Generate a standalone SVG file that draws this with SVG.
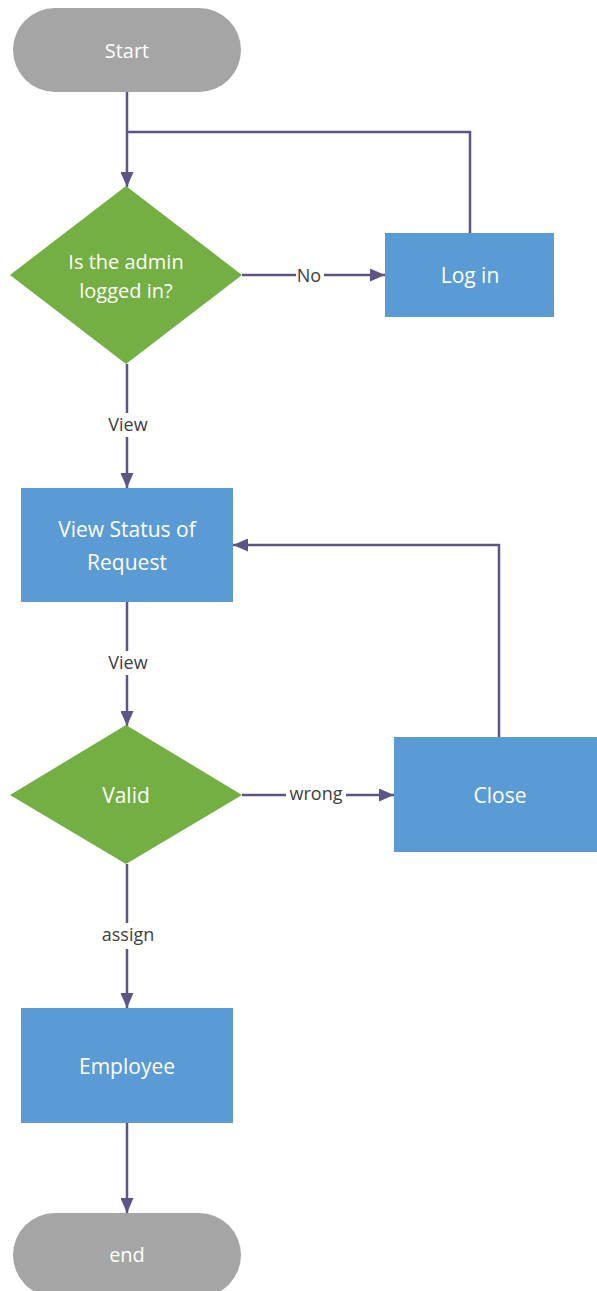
<svg xmlns="http://www.w3.org/2000/svg" width="597" height="1291" viewBox="0 0 597 1291">
<defs>
<marker id="arr" markerWidth="15" markerHeight="13" refX="15" refY="6.5" orient="auto" markerUnits="userSpaceOnUse">
<path d="M0,0 L15,6.5 L0,13 Z" fill="#5E5488"/>
</marker>
<style>
.term{fill:#A5A5A5}
.dec{fill:#74AF43}
.proc{fill:#5B9BD5}
.t{font-family:"Open Sans","Liberation Sans",sans-serif;font-size:21px;fill:#fff;text-anchor:middle;dominant-baseline:central}
.c{stroke:#5E5488;stroke-width:2.5;fill:none}
.l{font-family:"Open Sans","Liberation Sans",sans-serif;font-size:18px;fill:#404040;text-anchor:middle;dominant-baseline:central}
.bg{fill:#fff}
</style>
</defs>
<rect width="597" height="1291" fill="#fff"/>
<g id="connectors">
<path class="c" d="M127,92 V187" marker-end="url(#arr)"/>
<path class="c" d="M470,233 V132 H127"/>
<path class="c" d="M242,275 H385" marker-end="url(#arr)"/>
<rect class="bg" x="296" y="264" width="28" height="22"/>
<text class="l" x="309" y="275">No</text>
<path class="c" d="M127,364 V488" marker-end="url(#arr)"/>
<rect class="bg" x="104" y="413" width="46" height="24"/>
<text class="l" x="128" y="424">View</text>
<path class="c" d="M127,602 V726" marker-end="url(#arr)"/>
<rect class="bg" x="104" y="651" width="46" height="24"/>
<text class="l" x="128" y="662">View</text>
<path class="c" d="M499,737 V545 H233" marker-end="url(#arr)"/>
<path class="c" d="M242,795 H394" marker-end="url(#arr)"/>
<rect class="bg" x="286" y="783" width="60" height="24"/>
<text class="l" x="316" y="793">wrong</text>
<path class="c" d="M127,864 V1008" marker-end="url(#arr)"/>
<rect class="bg" x="97" y="923" width="62" height="26"/>
<text class="l" x="128" y="934">assign</text>
<path class="c" d="M127,1123 V1213" marker-end="url(#arr)"/>
</g>
<g id="start">
<rect class="term" x="13" y="8" width="228" height="84" rx="42"/>
<text class="t" x="127" y="50" style="font-size:20px">Start</text>
</g>
<g id="decision-login">
<polygon class="dec" points="126,186 242,275 126,364 10,275"/>
<text class="t" x="126" y="261" style="font-size:20px">Is the admin</text>
<text class="t" x="126" y="290" style="font-size:20px">logged in?</text>
</g>
<g id="login">
<rect class="proc" x="385" y="233" width="169" height="84"/>
<text class="t" x="470" y="275">Log in</text>
</g>
<g id="view-status">
<rect class="proc" x="21" y="488" width="212" height="114"/>
<text class="t" x="127" y="529">View Status of</text>
<text class="t" x="127" y="562">Request</text>
</g>
<g id="valid">
<polygon class="dec" points="126,725 242,795 126,864 10,795"/>
<text class="t" x="126" y="795">Valid</text>
</g>
<g id="close">
<rect class="proc" x="394" y="737" width="205" height="115"/>
<text class="t" x="500" y="795">Close</text>
</g>
<g id="employee">
<rect class="proc" x="21" y="1008" width="212" height="115"/>
<text class="t" x="127" y="1066">Employee</text>
</g>
<g id="end">
<rect class="term" x="13" y="1213" width="228" height="84" rx="42"/>
<text class="t" x="127" y="1254" style="font-size:20px">end</text>
</g>
</svg>
